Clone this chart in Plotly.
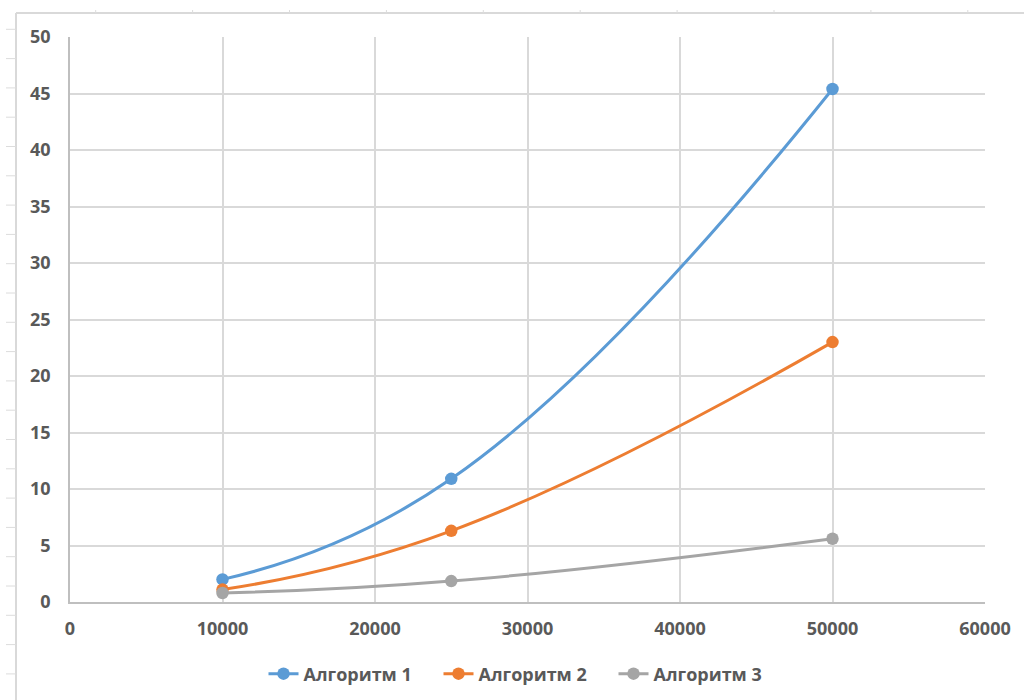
import plotly.graph_objects as go

# Problem sizes and run times for the three algorithms
sizes = [10000, 25000, 50000]
alg1 = [2.0, 10.9, 45.4]
alg2 = [1.1, 6.3, 23.0]
alg3 = [0.8, 1.85, 5.6]
names = ["Алгоритм 1", "Алгоритм 2", "Алгоритм 3"]
colors = ["#5b9bd5", "#ed7d31", "#a5a5a5"]

x_ticks = [0, 10000, 20000, 30000, 40000, 50000, 60000]
y_ticks = [0, 5, 10, 15, 20, 25, 30, 35, 40, 45, 50]

W, H = 1024, 700
ML, MR, MT, MB = 70, 39, 37, 98
PW, PH = W - ML - MR, H - MT - MB


def px_x(p):
    return (p - ML) / PW


def px_y(p):
    return (H - MB - p) / PH


label_font = dict(family="Open Sans", size=18, color="#595959", weight="bold")

fig = go.Figure()
for vals, name, col in zip([alg1, alg2, alg3], names, colors):
    fig.add_trace(go.Scatter(
        x=sizes, y=vals, name=name, mode="lines+markers",
        line=dict(color=col, width=3, shape="spline", smoothing=1.3),
        marker=dict(color=col, size=12.5),
    ))

# Sheet-style frame around the chart with cell separator ticks
shapes = []
frame = dict(color="#d9d9d9", width=2)
shapes.append(dict(type="line", xref="paper", yref="paper",
                   x0=px_x(16), x1=px_x(16), y0=px_y(13), y1=px_y(700), line=frame))
shapes.append(dict(type="line", xref="paper", yref="paper",
                   x0=px_x(16), x1=px_x(1024), y0=px_y(13), y1=px_y(13), line=frame))
for k in range(1, 24):
    yy = 29.3 * k
    shapes.append(dict(type="line", xref="paper", yref="paper",
                       x0=px_x(6), x1=px_x(16), y0=px_y(yy), y1=px_y(yy),
                       line=dict(color="#dcdcdc", width=1)))
for k in range(10):
    xx = 95.7 + 96.9 * k
    shapes.append(dict(type="line", xref="paper", yref="paper",
                       x0=px_x(xx), x1=px_x(xx), y0=px_y(10), y1=px_y(13),
                       line=dict(color="#dcdcdc", width=1)))

fig.update_layout(
    width=W, height=H,
    margin=dict(l=ML, r=MR, t=MT, b=MB, autoexpand=False),
    paper_bgcolor="white", plot_bgcolor="white",
    font=dict(family="Open Sans", size=18, color="#595959"),
    showlegend=True,
    legend=dict(orientation="h", x=px_x(526), xanchor="center",
                y=px_y(674), yanchor="middle",
                font=label_font,
                entrywidth=130, entrywidthmode="pixels",
                itemwidth=30, tracegroupgap=0),
    shapes=shapes,
)
fig.update_xaxes(
    range=[0, 60000], tickvals=x_ticks, ticktext=[str(v) for v in x_ticks],
    showgrid=True, gridcolor="#d9d9d9", gridwidth=1.5,
    showline=True, linecolor="#bfbfbf", linewidth=1.5,
    zeroline=False, ticks="", ticklabelstandoff=10, automargin=False,
    tickfont=label_font,
)
fig.update_yaxes(
    range=[0, 50], tickvals=y_ticks,
    showgrid=True, gridcolor="#d9d9d9", gridwidth=1.5,
    showline=True, linecolor="#bfbfbf", linewidth=1.5,
    zeroline=False, ticks="", ticklabelstandoff=14, automargin=False,
    tickfont=label_font,
)

fig.write_html("out.html")
